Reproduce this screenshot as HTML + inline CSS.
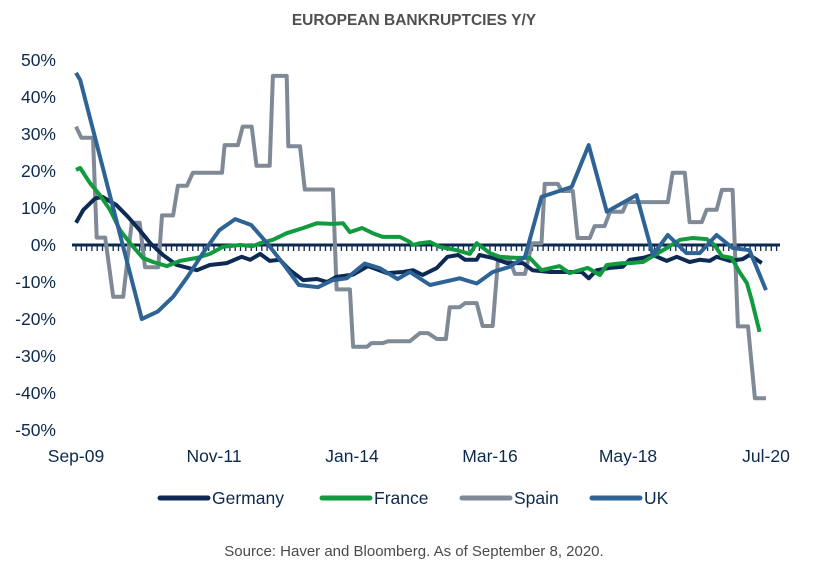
<!DOCTYPE html>
<html><head><meta charset="utf-8"><style>
html,body{margin:0;padding:0;background:#fff;}
svg{display:block;font-family:"Liberation Sans",Arial,sans-serif;}
</style></head><body>
<svg id="chart" width="829" height="582" viewBox="0 0 829 582" xmlns="http://www.w3.org/2000/svg">
<text x="414" y="25" text-anchor="middle" font-size="15.5" font-weight="bold" fill="#505050">EUROPEAN BANKRUPTCIES Y/Y</text>
<g id="yaxis"></g>
<g id="xaxis"></g>
<g id="series"></g>
<g id="legend"></g>
<text x="414" y="556" text-anchor="middle" font-size="15" fill="#4a4a4a">Source: Haver and Bloomberg. As of September 8, 2020.</text>
</svg>
<script>
const yTicks=[50,40,30,20,10,0,-10,-20,-30,-40,-50];
const xLabels=["Sep-09","Nov-11","Jan-14","Mar-16","May-18","Jul-20"];
const xLabelMonths=[0,26,52,78,104,130];
const totalMonths=130;
const germanyM=[0,1.4,3.6,5,7.6,9.8,12,14,16.4,19,22.8,25.2,28.4,31.2,32.8,34.7,36.5,38.4,40.3,42.8,45.4,47.3,49.1,52.2,55,58.6,61.6,63.5,65.3,68,70,72,73.3,75.5,76,78.5,81.2,84.2,86,89.3,93,95.3,96.6,98.1,100.6,103,104.3,106.8,108.7,111.3,113.2,115.6,117.5,119.4,120.7,123.2,125.6,126.9,129.2];
const germanyV=[6,9.5,12.6,13,10.8,7.6,4,0.5,-2.7,-5.4,-6.8,-5.4,-4.9,-3.2,-4,-2.4,-4.3,-4,-6.8,-9.5,-9.2,-10,-8.6,-8,-5.7,-7.6,-7.3,-6.8,-8.1,-6.2,-3.2,-2.7,-4,-4,-2.7,-3.5,-4.9,-4.9,-6.8,-7.3,-7.3,-7.3,-9,-6.8,-6.2,-5.9,-4,-3.5,-2.7,-4.3,-3.2,-4.6,-4,-4.3,-3.2,-4.3,-3.8,-2.7,-4.9];
const franceM=[0,0.8,2.6,4.5,6.4,8.3,10.2,12.6,14.5,17.1,19.6,22.8,25.2,27.7,30.9,33.3,34.7,37.1,39.7,42.8,45.4,48.4,50.3,51.6,53.9,55.9,57.8,61,62.9,63.5,64.8,66.7,68.5,71.7,74.2,75.5,78,79.8,83,85.5,87.7,91.1,93,96.4,98.7,100,103,104.3,106.8,108.7,111.3,113.8,116.2,118.8,120.3,121.7,123.5,125,126.4,127.3,128.8];
const franceV=[20.3,20.8,16.8,13.5,9.5,4,0.5,-3.5,-4.6,-5.7,-4.3,-3.5,-2.4,-0.5,0,-0.3,0.5,1.4,3.2,4.6,5.9,5.7,5.9,3.5,4.6,3.2,2.2,2.2,0.8,0,0.5,0.8,-0.5,-1.4,-2.4,0.5,-2.2,-3.2,-3.5,-3.5,-6.8,-5.7,-7.6,-6.2,-8.1,-5.4,-4.9,-4.9,-4.6,-3,-0.8,1.4,1.9,1.6,0,-3,-3.5,-7.3,-10.3,-14.9,-23.5];
const spainM=[0,1,3.2,3.9,5.5,7,8.9,10.5,12,13,15.5,16.2,18.3,19.2,20.9,22,27.5,28,30.5,31.4,33.1,34,36.5,37.1,39.7,40,42.2,43.1,48.4,49.1,51.6,52.2,54.8,55.7,57.8,58.8,62.9,64.8,66.3,68,69.7,70.4,72.3,73.3,75.5,76.6,78.5,79.5,81.7,82.7,84.6,85.9,87.7,88.3,90.8,91.5,93.6,94.5,96.8,97.7,99.6,100.6,103,103.8,111.5,112.4,114.7,115.6,117.9,118.8,120.7,121.7,123.7,124.7,126.6,127.9,130];
const spainV=[32,29,29,2,2,-14,-14,6,6,-6,-6,8,8,16,16,19.5,19.5,27,27,32,32,21.4,21.4,45.7,45.7,26.7,26.7,15,15,-12,-12,-27.5,-27.5,-26.5,-26.5,-26,-26,-23.8,-23.8,-25.4,-25.4,-16.8,-16.8,-15.7,-15.7,-21.9,-21.9,-4,-4,-7.8,-7.8,0.5,0.5,16.5,16.5,14.6,14.6,1.9,1.9,5.1,5.1,9,9,11.6,11.6,19.5,19.5,6.2,6.2,9.5,9.5,14.9,14.9,-22,-22,-41.4,-41.4];
const ukM=[0,0.8,12.4,15.4,18.3,21,24,27,30,33,36,39,42,45.6,48.4,51,54.4,57.3,60.6,62.9,66.7,72.3,75.5,78.5,81.7,84.6,87.7,93.4,96.6,100,105.6,108.7,111.5,115,117.5,120.7,123.7,126.9,130];
const ukV=[46.5,44.6,-20,-18,-14,-8.6,-2,4,7,5.4,0.5,-5,-10.8,-11.4,-9.5,-9,-5,-6.3,-9.2,-7.3,-10.8,-9,-10.4,-7.3,-5.9,-3.2,13,15.7,27,9,13.5,-2.7,2.7,-2.2,-2.2,2.7,-0.8,-1.4,-12.2];

const X0=76,X1=766,Y0=245,YS=3.7;
const xS=m=>X0+m*(X1-X0)/totalMonths;
const yS=v=>Y0-v*YS;
const NS="http://www.w3.org/2000/svg";
function mk(tag,attrs,parent){const e=document.createElementNS(NS,tag);for(const k in attrs)e.setAttribute(k,attrs[k]);parent.appendChild(e);return e;}
const yaxis=document.getElementById('yaxis'),xaxis=document.getElementById('xaxis'),sg=document.getElementById('series'),lg=document.getElementById('legend');
yTicks.forEach(v=>{const t=mk('text',{x:56,y:yS(v)+6,'text-anchor':'end','font-size':17.5,fill:'#0d2a4e'},yaxis);t.textContent=v+'%';

});
xLabels.forEach((l,i)=>{const t=mk('text',{x:xS(xLabelMonths[i]),y:462,'text-anchor':'middle','font-size':17.5,fill:'#0d2a4e'},xaxis);t.textContent=l;

});
const series=[["germany",germanyM,germanyV,"#0d2a55"],["france",franceM,franceV,"#119a3e"],["spain",spainM,spainV,"#7f8a96"],["uk",ukM,ukV,"#2e6396"]];
const ax=mk('line',{x1:72,x2:780,y1:Y0,y2:Y0,stroke:'#0d2a4e','stroke-width':3},sg);


let d='';for(let m=0;m<=totalMonths+2;m++){const x=xS(m);d+=`M${x.toFixed(1)},${Y0}V${Y0+6}`;}
const tk=mk('path',{d:d,stroke:'#0d2a4e','stroke-width':1.3},sg);


[series[2],series[0],series[1],series[3]].forEach(s=>{
 const pts=s[1].map((m,i)=>xS(m).toFixed(1)+','+yS(s[2][i]).toFixed(1)).join(' ');
 const p=mk('polyline',{points:pts,fill:'none',stroke:s[3],'stroke-width':4,'stroke-linejoin':'round'},sg);
 
 
});
const legendItems=[["Germany","#0d2a55",160],["France","#119a3e",322],["Spain","#7f8a96",462],["UK","#2e6396",592]];
legendItems.forEach(li=>{
 const l=mk('line',{x1:li[2],x2:li[2]+48,y1:498,y2:498,stroke:li[1],'stroke-width':5,'stroke-linecap':'round'},lg);
 
 
 const t=mk('text',{x:li[2]+52,y:504,'font-size':17.5,fill:'#0d2a4e'},lg);t.textContent=li[0];
 
 
});
</script>
</body></html>
